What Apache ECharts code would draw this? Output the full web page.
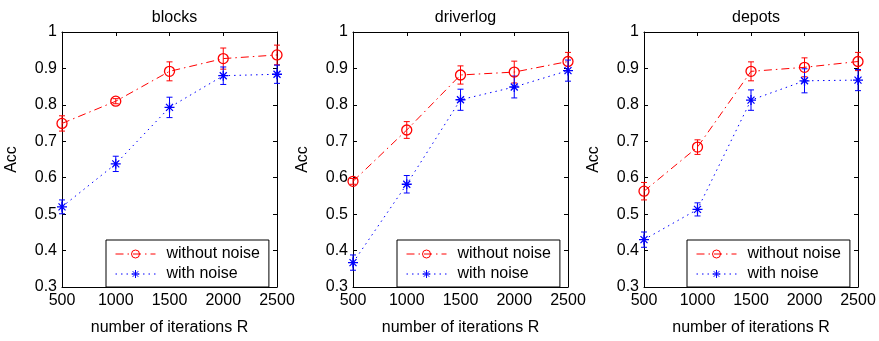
<!DOCTYPE html>
<html>
<head>
<meta charset="utf-8">
<script src="https://cdn.jsdelivr.net/npm/echarts@6/dist/echarts.min.js"></script>
<style>html,body{margin:0;padding:0;background:#fff}#c{width:879px;height:341px}</style>
</head>
<body>
<div id="c"></div>
<script>
const iterations = [500, 1000, 1500, 2000, 2500];
const panelTitles = ['blocks', 'driverlog', 'depots'];
const seriesNames = ['without noise', 'with noise'];
const yTickLabels = ['0.3', '0.4', '0.5', '0.6', '0.7', '0.8', '0.9', '1'];
const xAxisTitle = 'number of iterations R';
const yAxisTitle = 'Acc';

// blocks
const blocksClean = [0.749, 0.810, 0.892, 0.927, 0.937];
const blocksCleanErr = [0.021, 0.007, 0.026, 0.029, 0.027];
const blocksNoise = [0.520, 0.638, 0.793, 0.880, 0.884];
const blocksNoiseErr = [0.019, 0.021, 0.028, 0.024, 0.025];
// driverlog
const driverClean = [0.590, 0.731, 0.882, 0.890, 0.919];
const driverCleanErr = [0.008, 0.023, 0.025, 0.030, 0.025];
const driverNoise = [0.367, 0.582, 0.814, 0.849, 0.894];
const driverNoiseErr = [0.021, 0.024, 0.029, 0.030, 0.029];
// depots
const depotsClean = [0.563, 0.684, 0.892, 0.903, 0.919];
const depotsCleanErr = [0.024, 0.020, 0.026, 0.026, 0.025];
const depotsNoise = [0.430, 0.513, 0.813, 0.866, 0.868];
const depotsNoiseErr = [0.021, 0.018, 0.028, 0.033, 0.029];

const cleanVals = [blocksClean, driverClean, depotsClean];
const cleanErrs = [blocksCleanErr, driverCleanErr, depotsCleanErr];
const noiseVals = [blocksNoise, driverNoise, depotsNoise];
const noiseErrs = [blocksNoiseErr, driverNoiseErr, depotsNoiseErr];

const FONT = "'Liberation Sans', Arial, Helvetica, sans-serif";
const RED = '#ff0000', BLUE = '#0000ff';
const ASTERISK = 'path://M5,0L5,10M0,5L10,5M1.5,1.5L8.5,8.5M1.5,8.5L8.5,1.5';

const gridLefts = [62, 353, 644];
const gridWidths = [215, 215, 214];
const legendLefts = [106, 397, 687];
const gridTop = 32, gridHeight = 262;

const chart = echarts.init(document.getElementById('c'), null, {renderer: 'canvas'});

const grids = [], xAxes = [], yAxes = [], series = [], titles = [], legends = [];

function errRender(color) {
  return function (params, api) {
    const x = api.value(0), lo = api.value(1), hi = api.value(2);
    const p1 = api.coord([x, lo]);
    const p2 = api.coord([x, hi]);
    const cap = 3;
    const style = {stroke: color, lineWidth: 1, fill: null};
    return {
      type: 'group',
      children: [
        {type: 'line', shape: {x1: p1[0], y1: p1[1], x2: p2[0], y2: p2[1]}, style},
        {type: 'line', shape: {x1: p1[0] - cap, y1: p1[1], x2: p1[0] + cap, y2: p1[1]}, style},
        {type: 'line', shape: {x1: p2[0] - cap, y1: p2[1], x2: p2[0] + cap, y2: p2[1]}, style}
      ]
    };
  };
}

for (let i = 0; i < 3; i++) {
  grids.push({left: gridLefts[i], top: gridTop, width: gridWidths[i], height: gridHeight, show: false, containLabel: false});
  const axisCommon = {
    axisLine: {show: true, onZero: false, lineStyle: {color: '#000', width: 1}},
    axisTick: {show: true, inside: true, length: 4, lineStyle: {color: '#000'}},
    splitLine: {show: false}
  };
  xAxes.push(Object.assign({}, axisCommon, {
    type: 'value', gridIndex: i, position: 'bottom', min: 500, max: 2500, interval: 500,
    axisLabel: {show: true, color: '#000', fontSize: 16, fontFamily: FONT, margin: 6,
      formatter: (v) => String(v)},
    name: xAxisTitle, nameLocation: 'middle', nameGap: 33,
    nameTextStyle: {color: '#000', fontSize: 16, fontFamily: FONT}
  }));
  xAxes.push(Object.assign({}, axisCommon, {
    type: 'value', gridIndex: i, position: 'top', min: 500, max: 2500, interval: 500,
    axisLabel: {show: false}
  }));
  yAxes.push(Object.assign({}, axisCommon, {
    type: 'value', gridIndex: i, position: 'left', min: 0.3, max: 1, interval: 0.1,
    axisLabel: {show: true, color: '#000', fontSize: 16, fontFamily: FONT, margin: 5,
      formatter: (v) => yTickLabels[Math.round((v - 0.3) * 10)]},
    name: yAxisTitle, nameLocation: 'middle', nameGap: 42,
    nameTextStyle: {color: '#000', fontSize: 16, fontFamily: FONT}
  }));
  yAxes.push(Object.assign({}, axisCommon, {
    type: 'value', gridIndex: i, position: 'right', min: 0.3, max: 1, interval: 0.1,
    axisLabel: {show: false}
  }));
  titles.push({
    text: panelTitles[i], left: gridLefts[i] + gridWidths[i] / 2, top: 5, textAlign: 'center',
    textStyle: {color: '#000', fontSize: 16, fontWeight: 'normal', fontFamily: FONT}
  });
  legends.push({
    data: seriesNames, orient: 'vertical', left: legendLefts[i], top: 240,
    padding: [6, 9, 5, 9], itemGap: 4, itemWidth: 40, itemHeight: 10,
    borderColor: '#000', borderWidth: 1, backgroundColor: '#fff',
    textStyle: {color: '#000', fontSize: 16, fontFamily: FONT, padding: [0, 0, 0, 6], lineHeight: 16},
    lineStyle: {width: 1},
    itemStyle: {borderWidth: 1},
    selectedMode: false
  });
  const cleanData = iterations.map((x, k) => [x, cleanVals[i][k]]);
  const noiseData = iterations.map((x, k) => [x, noiseVals[i][k]]);
  series.push({
    type: 'custom', name: seriesNames[0] + ' err', xAxisIndex: 2 * i, yAxisIndex: 2 * i,
    renderItem: errRender(RED), silent: true,
    data: iterations.map((x, k) => [x, cleanVals[i][k] - cleanErrs[i][k], cleanVals[i][k] + cleanErrs[i][k]]),
    encode: {x: 0, y: [1, 2]}, z: 2
  });
  series.push({
    type: 'custom', name: seriesNames[1] + ' err', xAxisIndex: 2 * i, yAxisIndex: 2 * i,
    renderItem: errRender(BLUE), silent: true,
    data: iterations.map((x, k) => [x, noiseVals[i][k] - noiseErrs[i][k], noiseVals[i][k] + noiseErrs[i][k]]),
    encode: {x: 0, y: [1, 2]}, z: 2
  });
  series.push({
    type: 'line', name: seriesNames[0], xAxisIndex: 2 * i, yAxisIndex: 2 * i,
    data: cleanData, symbol: 'circle', symbolSize: 10, showAllSymbol: true,
    lineStyle: {color: RED, width: 1, type: [8, 4, 1.5, 4]},
    itemStyle: {color: 'rgba(255,255,255,0)', borderColor: RED, borderWidth: 1.3},
    silent: true, z: 3
  });
  series.push({
    type: 'line', name: seriesNames[1], xAxisIndex: 2 * i, yAxisIndex: 2 * i,
    data: noiseData, symbol: ASTERISK, symbolSize: 10, showAllSymbol: true,
    lineStyle: {color: BLUE, width: 1, type: [1.5, 4]},
    itemStyle: {color: 'rgba(0,0,255,0)', borderColor: BLUE, borderWidth: 1.3},
    silent: true, z: 3
  });
}

chart.setOption({
  animation: false,
  backgroundColor: '#fff',
  title: titles,
  grid: grids,
  xAxis: xAxes,
  yAxis: yAxes,
  legend: legends,
  series: series
});
</script>
</body>
</html>
